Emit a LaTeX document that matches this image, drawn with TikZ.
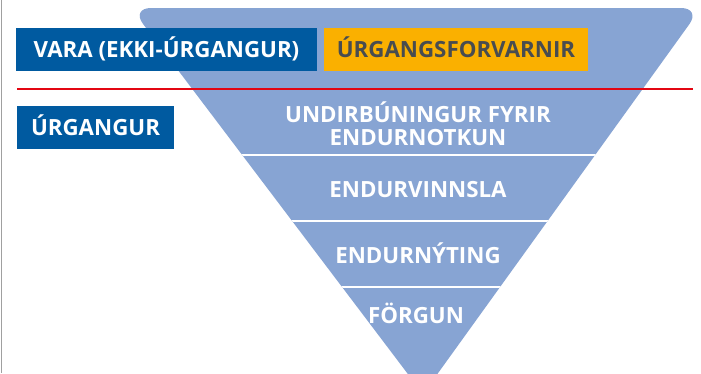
\documentclass[tikz,border=0pt]{standalone}
\usepackage{fontspec}
\setmainfont{Open Sans}
\definecolor{boxblue}{RGB}{0,90,160}
\definecolor{tri}{RGB}{135,164,211}
\definecolor{orng}{RGB}{250,176,0}
\definecolor{darktxt}{RGB}{72,76,80}
\definecolor{redline}{RGB}{227,6,19}
\definecolor{frame}{RGB}{160,160,160}
\tikzset{
  lbl/.style={font=\fontsize{22.3}{26}\selectfont\bfseries, text height=15.5pt, text depth=0pt, inner sep=0pt},
  bluebox/.style={lbl, fill=boxblue, text=white, minimum height=43pt},
  orangebox/.style={lbl, fill=orng, text=darktxt, minimum height=43pt},
  tlabel/.style={lbl, text=white},
  sep/.style={white, line width=2.2pt},
}
\begin{document}
\begin{tikzpicture}[x=1pt,y=-1pt]
\useasboundingbox (0,0) rectangle (701,373);
\clip (0,0) rectangle (701,373);
\fill[white] (0,0) rectangle (701,373);
% pyramid
\begin{scope}
\clip[rounded corners=20pt] (131,8) -- (701,8) -- (423,394) -- cycle;
\fill[tri] (0,0) rectangle (701,400);
\coordinate (s1l) at (0,155); \coordinate (s1r) at (701,155);
\coordinate (s2l) at (0,221); \coordinate (s2r) at (701,221);
\coordinate (s3l) at (0,287); \coordinate (s3r) at (701,287);
\draw[sep] (s1l) -- (s1r);
\draw[sep] (s2l) -- (s2r);
\draw[sep] (s3l) -- (s3r);
\end{scope}
% left frame line
\coordinate (ft) at (1.5,0); \coordinate (fb) at (1.5,373);
\draw[frame, line width=1.5pt] (ft) -- (fb);
% red line
\coordinate (rl) at (17,89); \coordinate (rr) at (693,89);
\draw[redline, line width=2.6pt] (rl) -- (rr);
% boxes
\node[bluebox, minimum width=301pt] (vara) at (166.5,49.5) {VARA (EKKI-ÚRGANGUR)};
\node[orangebox, minimum width=264pt] (forv) at (456,49.5) {ÚRGANGSFORVARNIR};
\node[bluebox, minimum width=157pt] (urg) at (95.5,127.5) {ÚRGANGUR};
% pyramid labels
\node[tlabel] (undir1) at (418,114.5) {UNDIRBÚNINGUR FYRIR};
\node[tlabel] (undir2) at (418,137.5) {ENDURNOTKUN};
\node[tlabel] (endv) at (418,190) {ENDURVINNSLA};
\node[tlabel] (endn) at (418,256) {ENDURNÝTING};
\node[tlabel] (forg) at (416,316) {FÖRGUN};
\end{tikzpicture}
\end{document}
